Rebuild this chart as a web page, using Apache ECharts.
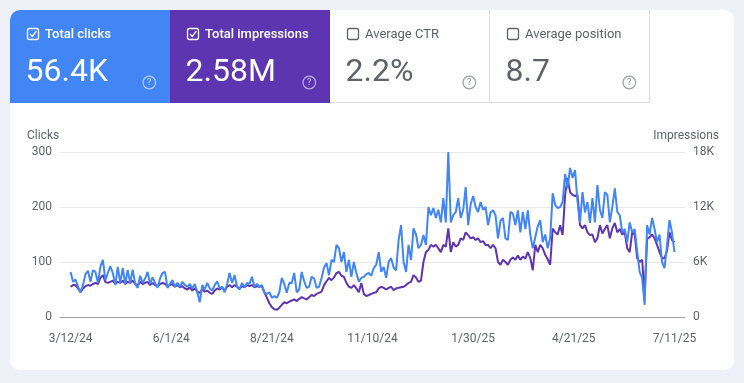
<!DOCTYPE html>
<html>
<head>
<meta charset="utf-8">
<script src="https://cdn.jsdelivr.net/npm/echarts@6/dist/echarts.min.js"></script>
<style>
  html, body { margin: 0; padding: 0; background: #eef1f7; }
  #card { position: absolute; left: 10px; top: 10px; width: 724px; height: 360px; background: #ffffff; border-radius: 10px; }
  #chart { position: absolute; left: 0; top: 0; width: 744px; height: 383px; }
</style>
</head>
<body>
<div id="card"></div>
<div id="chart"></div>
<script>
// x positions are day offsets from 3/12/24, one sample every STEP days
const STEP = 2;
const tickDays = [0, 81, 162, 243, 324, 405, 486];
const tickLabels = ['3/12/24', '6/1/24', '8/21/24', '11/10/24', '1/30/25', '4/21/25', '7/11/25'];

const clicks = [
  82,64,68,55,45,58,78,84,64,85,
  82,62,91,104,67,80,92,80,58,91,
  62,89,60,85,62,86,60,53,75,62,
  70,82,60,72,62,53,70,80,82,53,
  60,67,55,62,55,64,58,55,60,52,
  60,45,27,58,50,62,52,48,58,65,
  52,55,45,60,80,62,76,55,50,62,
  54,62,60,73,55,60,55,58,44,42,
  45,35,38,35,45,71,60,44,62,62,
  80,45,50,82,65,53,55,73,70,53,
  55,71,90,98,76,104,100,131,125,100,
  118,82,104,73,100,80,64,71,73,78,
  80,75,89,95,118,82,91,71,100,107,
  90,85,140,167,100,82,131,104,161,150,
  125,131,149,131,200,185,198,180,195,172,
  216,172,300,172,185,191,216,180,195,236,
  167,205,220,200,191,209,195,200,167,190,
  194,185,143,175,180,143,140,191,188,167,
  194,154,191,160,194,149,125,145,165,176,
  136,150,125,143,225,204,198,200,209,260,
  234,271,253,267,210,172,227,190,209,171,
  216,172,240,195,180,227,222,172,200,234,
  191,185,154,160,136,172,154,160,120,82,
  71,22,167,150,180,160,136,150,100,89,
  130,176,154,118
];

const impressions = [
  3300,3480,3480,3120,2700,3120,3360,3480,3420,3600,
  3720,3600,4260,4560,3840,3720,3840,3960,3600,3840,
  3720,3960,3600,3840,3720,3960,3600,3480,3840,3600,
  3720,3840,3480,3720,3480,3360,3600,3720,3600,3360,
  3480,3600,3300,3480,3240,3360,3120,3000,3240,2880,
  3120,2760,2640,3000,2760,2880,2640,2520,2880,3120,
  3000,3240,2880,3300,3480,3240,3480,3300,3120,3360,
  3240,3480,3360,3480,3240,3360,3300,3360,2700,2100,
  1500,1080,840,780,1020,1320,1620,1500,1680,1800,
  1920,1740,1980,2160,2040,1920,2160,2400,2280,2520,
  2640,2760,3480,3900,4260,4020,4320,4800,4920,4500,
  4380,3720,3300,3180,3480,3120,2700,3720,2520,2280,
  2400,2520,2640,2700,3120,3300,3180,3000,3180,3300,
  2940,3120,3180,3240,3300,3480,3720,3840,4560,4320,
  3840,3960,6000,7080,7320,7860,7680,7860,7500,7080,
  7860,7680,9660,7080,8160,7680,7860,8580,8400,9240,
  8940,8580,8700,8400,8580,8160,8280,7860,7860,7500,
  7860,7500,6000,5700,6240,6000,5700,6240,6480,6240,
  6720,6240,6600,6360,7080,6420,5100,7860,7080,7860,
  7500,6780,6300,5700,9660,9240,9000,10020,8940,13320,
  15180,13620,13320,13200,13320,10020,9660,10020,9240,8940,
  9000,8160,8580,10020,9120,9600,10020,8580,9660,10260,
  9240,9600,9000,9240,7500,7080,9240,9000,6420,6000,
  6240,2400,8520,8700,9000,8580,7860,7080,6420,6420,
  7200,9240,8400,8160
];

const tileTitles = ['Total clicks', 'Total impressions', 'Average CTR', 'Average position'];
const tileValues = ['56.4K', '2.58M', '2.2%', '8.7'];
const tileChecked = [true, true, false, false];
const tileColors = ['#4285f4', '#5e35b1', '#ffffff', '#ffffff'];

const chart = echarts.init(document.getElementById('chart'), null, { renderer: 'canvas' });

const graphics = [];
const TILE_W = 160, TILE_TOP = 10, TILE_H = 93;
tileTitles.forEach((t, i) => {
  const left = 10 + i * TILE_W;
  const colored = tileChecked[i];
  const fg = colored ? '#ffffff' : '#5f6368';
  graphics.push({
    type: 'rect',
    shape: { x: left, y: TILE_TOP, width: TILE_W, height: TILE_H, r: i === 0 ? [10, 0, 0, 0] : 0 },
    style: { fill: tileColors[i] }
  });
  if (!colored) {
    graphics.push({ type: 'line', shape: { x1: left, y1: TILE_TOP + TILE_H - 0.5, x2: left + TILE_W, y2: TILE_TOP + TILE_H - 0.5 }, style: { stroke: '#dadce0', lineWidth: 1 } });
    graphics.push({ type: 'line', shape: { x1: left + TILE_W - 0.5, y1: TILE_TOP, x2: left + TILE_W - 0.5, y2: TILE_TOP + TILE_H }, style: { stroke: '#dadce0', lineWidth: 1 } });
  }
  // checkbox
  graphics.push({
    type: 'rect',
    shape: { x: left + 17.5, y: 28.5, width: 11, height: 11, r: 2 },
    style: { fill: 'none', stroke: colored ? '#ffffff' : '#5f6368', lineWidth: 1.3 }
  });
  if (colored) {
    graphics.push({
      type: 'polyline',
      shape: { points: [[left + 20, 34], [left + 22.3, 36.5], [left + 26.3, 31.2]] },
      style: { fill: 'none', stroke: '#ffffff', lineWidth: 1.4 }
    });
  }
  graphics.push({
    type: 'text',
    style: { text: t, x: left + 35, y: 34.3, fill: fg, fontSize: 13, fontWeight: colored ? 500 : 400, fontFamily: 'Roboto', verticalAlign: 'middle', align: 'left' }
  });
  graphics.push({
    type: 'text',
    style: { text: tileValues[i], x: left + 15.5, y: 72.5, fill: fg, fontSize: 32, fontWeight: 400, fontFamily: 'Roboto', verticalAlign: 'middle', align: 'left' }
  });
  // help icon
  const hc = colored ? 'rgba(255,255,255,0.6)' : '#9aa0a6';
  graphics.push({
    type: 'circle',
    shape: { cx: left + 139.3, cy: 82.5, r: 6.3 },
    style: { fill: 'none', stroke: hc, lineWidth: 1.2 }
  });
  graphics.push({
    type: 'text',
    style: { text: '?', x: left + 139.3, y: 83, fill: hc, fontSize: 9, fontWeight: 500, fontFamily: 'Roboto', verticalAlign: 'middle', align: 'center' }
  });
});
graphics.push({ type: 'text', style: { text: 'Clicks', x: 27, y: 136, fill: '#5f6368', fontSize: 12, fontFamily: 'Roboto', verticalAlign: 'middle', align: 'left' } });
graphics.push({ type: 'text', style: { text: 'Impressions', x: 719, y: 136, fill: '#5f6368', fontSize: 12, fontFamily: 'Roboto', verticalAlign: 'middle', align: 'right' } });

const option = {
  backgroundColor: 'transparent',
  animation: false,
  textStyle: { fontFamily: 'Roboto' },
  grid: { left: 60, right: 59, top: 152, height: 165, containLabel: false },
  xAxis: {
    type: 'value',
    min: -8.5,
    max: 494.5,
    splitLine: { show: false },
    axisTick: { show: false },
    axisLine: { show: true, lineStyle: { color: '#9e9e9e', width: 1 } },
    axisLabel: {
      customValues: tickDays,
      margin: 16,
      color: '#5f6368',
      fontSize: 12,
      formatter: (v) => { const k = tickDays.indexOf(v); return k >= 0 ? tickLabels[k] : ''; }
    }
  },
  yAxis: [
    {
      type: 'value', min: 0, max: 300, interval: 100, position: 'left',
      axisLine: { show: false }, axisTick: { show: false },
      splitLine: { show: true, lineStyle: { color: '#e8eaed', width: 1 } },
      axisLabel: { margin: 8, color: '#5f6368', fontSize: 12, padding: [2, 0, 0, 0] }
    },
    {
      type: 'value', min: 0, max: 18000, interval: 6000, position: 'right',
      axisLine: { show: false }, axisTick: { show: false },
      splitLine: { show: false },
      axisLabel: { margin: 8, color: '#5f6368', fontSize: 12, padding: [2, 0, 0, 0], formatter: (v) => v === 0 ? '0' : (v / 1000) + 'K' }
    }
  ],
  series: [
    {
      name: 'Impressions', type: 'line', yAxisIndex: 1, z: 2,
      data: impressions.map((v, i) => [i * STEP, v]),
      showSymbol: false, symbol: 'none',
      lineStyle: { color: '#5e35b1', width: 2 }, itemStyle: { color: '#5e35b1' }
    },
    {
      name: 'Clicks', type: 'line', yAxisIndex: 0, z: 3,
      data: clicks.map((v, i) => [i * STEP, v]),
      showSymbol: false, symbol: 'none',
      lineStyle: { color: '#4285f4', width: 2 }, itemStyle: { color: '#4285f4' }
    }
  ],
  graphic: { elements: graphics }
};
chart.setOption(option);
</script>
</body>
</html>
